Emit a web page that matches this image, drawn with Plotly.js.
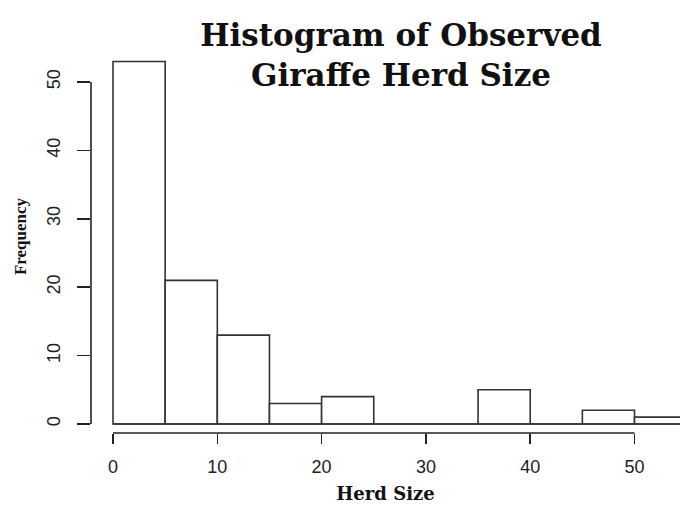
<!DOCTYPE html>
<html>
<head>
<meta charset="utf-8">
<script src="https://cdn.plot.ly/plotly-3.0.1.min.js"></script>
<style>
  html, body { margin: 0; padding: 0; background: #fff; }
  #chart { width: 680px; height: 506px; }
</style>
</head>
<body>
<div id="chart"></div>
<script>
// Histogram bins (left edges), bin width and counts
const binStarts = [0, 5, 10, 15, 20, 25, 30, 35, 40, 45, 50];
const binWidth = 5;
const counts = [53, 21, 13, 3, 4, 0, 0, 5, 0, 2, 1];
const xTickVals = [0, 10, 20, 30, 40, 50];
const yTickVals = [0, 10, 20, 30, 40, 50];

const binCenters = binStarts.map(s => s + binWidth / 2);
const lastEdge = binStarts[binStarts.length - 1] + binWidth;

const barTrace = {
  type: 'bar',
  x: binCenters,
  y: counts,
  width: binStarts.map(() => binWidth),
  marker: { color: '#ffffff', line: { color: '#333333', width: 1.6 } },
  hoverinfo: 'x+y',
  showlegend: false
};

// Zero-count bins are drawn as a line on the baseline, as in R
const baseTrace = {
  type: 'scatter',
  mode: 'lines',
  x: [binStarts[0], lastEdge],
  y: [0, 0],
  line: { color: '#333333', width: 1.6 },
  hoverinfo: 'skip',
  showlegend: false
};

const axisColor = '#222222';

const layout = {
  width: 680,
  height: 506,
  paper_bgcolor: '#ffffff',
  plot_bgcolor: '#ffffff',
  margin: { l: 91, r: 0, t: 40, b: 73 },
  bargap: 0,
  showlegend: false,
  title: {
    text: 'Histogram of Observed<br>Giraffe Herd Size',
    font: { family: 'DejaVu Serif', size: 31, color: '#111111', weight: 'bold' },
    xref: 'container', x: 401 / 680, xanchor: 'center',
    yref: 'container', y: 1 - 46 / 506, yanchor: 'top'
  },
  xaxis: {
    range: [-2.11, 54.36],
    tickvals: xTickVals,
    ticktext: xTickVals.map(String),
    ticks: 'outside', ticklen: 10, tickwidth: 1.6, tickcolor: axisColor,
    ticklabelstandoff: 7,
    showline: false, showgrid: false, zeroline: false,
    tickfont: { family: 'Liberation Sans', size: 18, color: '#222222' },
    title: {
      text: 'Herd Size',
      font: { family: 'DejaVu Serif', size: 18, color: '#111111', weight: 'bold' },
      standoff: 11
    },
    fixedrange: true
  },
  yaxis: {
    range: [-1.316, 56.14],
    tickvals: yTickVals,
    ticktext: yTickVals.map(String),
    tickangle: -90,
    ticks: 'outside', ticklen: 13, tickwidth: 1.6, tickcolor: axisColor,
    ticklabelstandoff: 10,
    showline: false, showgrid: false, zeroline: false,
    tickfont: { family: 'Liberation Sans', size: 18, color: '#222222' },
    title: {
      text: 'Frequency',
      font: { family: 'Liberation Serif', size: 17, color: '#111111', weight: 'bold' },
      standoff: 12
    },
    fixedrange: true
  },
  shapes: [
    { type: 'line', xref: 'x', yref: 'paper',
      x0: xTickVals[0], x1: xTickVals[xTickVals.length - 1], y0: 0, y1: 0,
      line: { color: axisColor, width: 1.6 } },
    { type: 'line', xref: 'paper', yref: 'y',
      x0: 0, x1: 0, y0: yTickVals[0], y1: yTickVals[yTickVals.length - 1],
      line: { color: axisColor, width: 1.6 } }
  ]
};

Plotly.newPlot('chart', [barTrace, baseTrace], layout, { displayModeBar: false, staticPlot: true });
</script>
</body>
</html>
